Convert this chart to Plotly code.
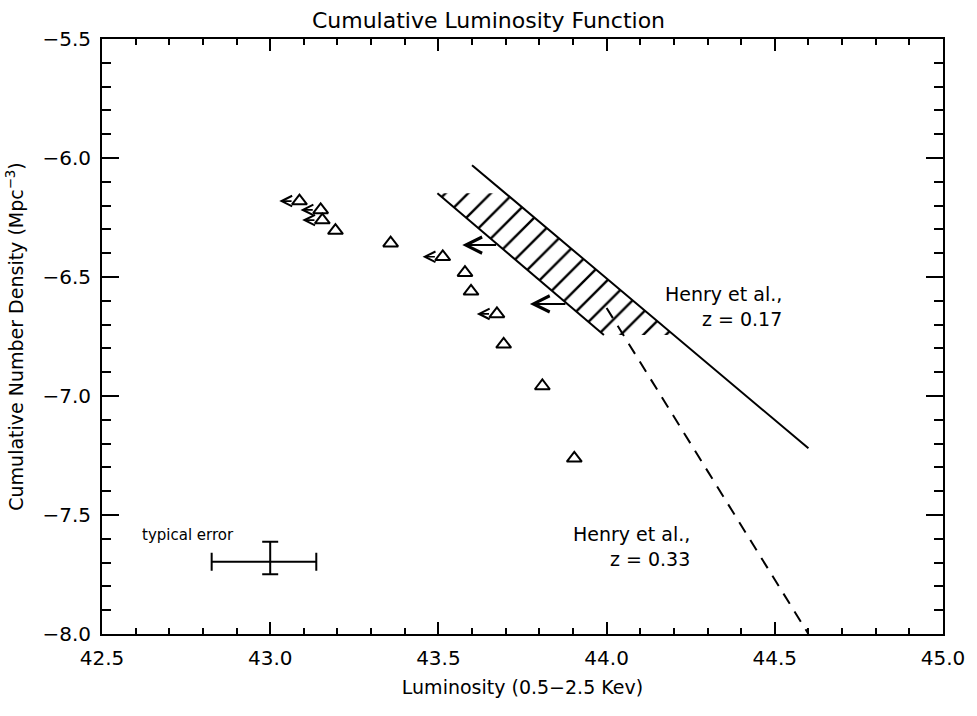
import plotly.graph_objects as go

# ---------------- data ----------------
lum = [43.087, 43.150, 43.155, 43.194, 43.358, 43.513, 43.579, 43.597, 43.674, 43.694, 43.809, 43.904]
dens = [-6.181, -6.218, -6.261, -6.305, -6.358, -6.415, -6.482, -6.560, -6.655, -6.783, -6.958, -7.262]
upper_limit = [True, True, True, False, False, True, False, False, True, False, False, False]

henry017_lum = [43.60, 44.60]
henry017_dens = [-6.03, -7.22]

henry033_lum = [44.00, 44.60]
henry033_dens = [-6.63, -8.00]

band_lum = [43.497, 43.697, 44.200, 43.992]
band_dens = [-6.148, -6.148, -6.744, -6.744]
band_lower_lum = [43.497, 43.992]
band_lower_dens = [-6.148, -6.744]

limit_arrow_dens = [-6.366, -6.613]
limit_arrow_tail = [43.676, 43.882]
limit_arrow_tip = [43.571, 43.772]

err_lum = [43.0]
err_dens = [-7.696]
err_x_minus = [0.174]
err_x_plus = [0.137]
err_y_plus = [0.084]
err_y_minus = [0.053]

x_ticks = [42.5, 43.0, 43.5, 44.0, 44.5, 45.0]
y_ticks = [-8.0, -7.5, -7.0, -6.5, -6.0, -5.5]

FONT = "DejaVu Sans"
BLACK = "black"

fig = go.Figure()

# hatched band (Henry et al. z = 0.17 uncertainty)
fig.add_trace(go.Scatter(
    x=band_lum + [band_lum[0]], y=band_dens + [band_dens[0]],
    mode="lines", fill="toself",
    line=dict(width=0, color="rgba(0,0,0,0)"),
    fillcolor="rgba(0,0,0,0)",
    fillpattern=dict(shape="/", fgcolor=BLACK, fgopacity=1, bgcolor="rgba(0,0,0,0)",
                     size=16, solidity=0.15),
    hoverinfo="skip", showlegend=False))
fig.add_trace(go.Scatter(
    x=band_lower_lum, y=band_lower_dens, mode="lines",
    line=dict(color=BLACK, width=2), showlegend=False, hoverinfo="skip"))

# Henry et al. z = 0.17 (solid)
fig.add_trace(go.Scatter(
    x=henry017_lum, y=henry017_dens, mode="lines",
    line=dict(color=BLACK, width=2), showlegend=False))

# Henry et al. z = 0.33 (dashed)
fig.add_trace(go.Scatter(
    x=henry033_lum, y=henry033_dens, mode="lines",
    line=dict(color=BLACK, width=2, dash="12px,9px"), showlegend=False))

# data points
fig.add_trace(go.Scatter(
    x=lum, y=dens, mode="markers",
    marker=dict(symbol="triangle-up-open", size=13, color=BLACK, line=dict(width=2, color=BLACK)),
    showlegend=False))

# typical error bar
fig.add_trace(go.Scatter(
    x=err_lum, y=err_dens, mode="markers",
    marker=dict(size=1, color="rgba(0,0,0,0)"),
    error_x=dict(type="data", symmetric=False, array=err_x_plus, arrayminus=err_x_minus,
                 color=BLACK, thickness=2, width=9),
    error_y=dict(type="data", symmetric=False, array=err_y_plus, arrayminus=err_y_minus,
                 color=BLACK, thickness=2, width=8),
    showlegend=False))

annotations = []
# upper-limit arrows on data points
for xv, yv, ul in zip(lum, dens, upper_limit):
    if ul:
        annotations.append(dict(
            x=xv - 0.060, y=yv, ax=xv - 0.019, ay=yv,
            xref="x", yref="y", axref="x", ayref="y",
            showarrow=True, arrowhead=5, arrowsize=1.3, arrowwidth=1.6,
            arrowcolor=BLACK, text=""))
# limit arrows on the band
for yv, tail, tip in zip(limit_arrow_dens, limit_arrow_tail, limit_arrow_tip):
    annotations.append(dict(
        x=tip, y=yv, ax=tail, ay=yv,
        xref="x", yref="y", axref="x", ayref="y",
        showarrow=True, arrowhead=5, arrowsize=1.6, arrowwidth=2,
        arrowcolor=BLACK, text=""))

annotations.append(dict(
    x=44.526, y=-6.626, xref="x", yref="y", xanchor="right", yanchor="middle",
    text="Henry et al.,<br>z = 0.17", align="right", showarrow=False,
    font=dict(family=FONT, size=19, color=BLACK)))
annotations.append(dict(
    x=44.255, y=-7.634, xref="x", yref="y", xanchor="right", yanchor="middle",
    text="Henry et al.,<br>z = 0.33", align="right", showarrow=False,
    font=dict(family=FONT, size=19, color=BLACK)))
annotations.append(dict(
    x=42.612, y=-7.584, xref="x", yref="y", xanchor="left", yanchor="middle",
    text="typical error", showarrow=False,
    font=dict(family=FONT, size=15, color=BLACK)))

fig.update_layout(
    width=977, height=716, autosize=False,
    margin=dict(l=102, r=24, t=39, b=82),
    paper_bgcolor="white", plot_bgcolor="white",
    font=dict(family=FONT, size=20, color=BLACK),
    title=dict(text="Cumulative Luminosity Function", x=0.500, xanchor="center",
               y=0.972, yanchor="middle", yref="container",
               font=dict(family=FONT, size=22, color=BLACK)),
    annotations=annotations,
    showlegend=False,
)

fig.update_xaxes(
    range=[42.5, 45.0], tickvals=x_ticks, ticktext=[f"{v:.1f}" for v in x_ticks],
    ticks="inside", ticklen=12, tickwidth=2, tickcolor=BLACK,
    showline=True, linewidth=2, linecolor=BLACK, mirror="ticks",
    showgrid=False, zeroline=False, ticklabelstandoff=5,
    tickfont=dict(family=FONT, size=20, color=BLACK),
    minor=dict(dtick=0.1, tick0=42.5, ticks="inside", ticklen=6, tickwidth=2, tickcolor=BLACK, showgrid=False),
    title=dict(text="Luminosity (0.5\u22122.5 Kev)", font=dict(family=FONT, size=19, color=BLACK), standoff=12),
)
fig.update_yaxes(
    range=[-8.0, -5.5], tickvals=y_ticks, ticktext=[f"{v:.1f}".replace("-", "\u2212") for v in y_ticks],
    ticks="inside", ticklen=17, tickwidth=2, tickcolor=BLACK,
    showline=True, linewidth=2, linecolor=BLACK, mirror="ticks",
    showgrid=False, zeroline=False, ticklabelstandoff=5,
    tickfont=dict(family=FONT, size=20, color=BLACK),
    minor=dict(dtick=0.1, tick0=-8.0, ticks="inside", ticklen=9, tickwidth=2, tickcolor=BLACK, showgrid=False),
    title=dict(text="Cumulative Number Density (Mpc<sup>\u22123</sup>)", font=dict(family=FONT, size=19, color=BLACK), standoff=14),
)

fig.write_html("out.html")
